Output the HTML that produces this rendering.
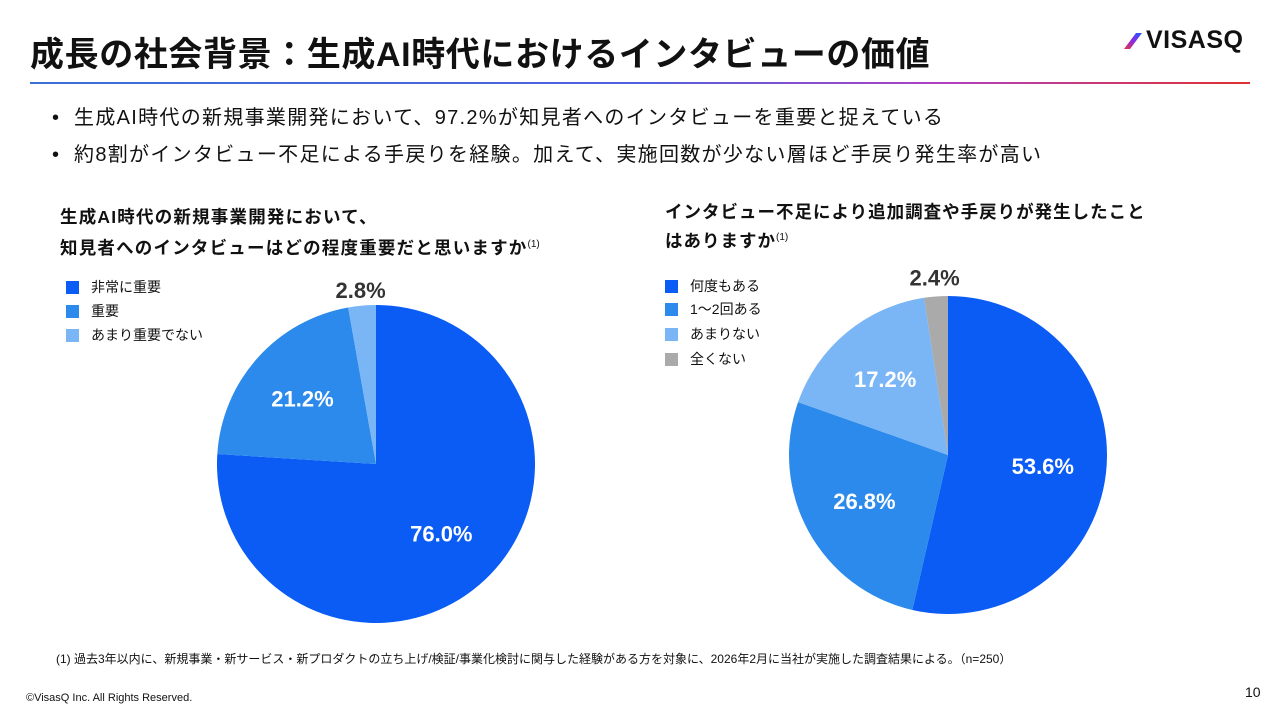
<!DOCTYPE html>
<html><head><meta charset="utf-8">
<style>
body{margin:0;width:1280px;height:720px;background:#fff;font-family:"Liberation Sans","Noto Sans CJK JP",sans-serif;color:#111;overflow:hidden;position:relative}
.a{position:absolute;white-space:nowrap}
.lg{position:absolute;font-size:14px;display:flex;align-items:center}
.lg i{display:inline-block;width:13px;height:13px;margin-right:12px}
</style></head><body>
<div class="a" style="left:30px;top:27px;font-size:34px;font-weight:bold;letter-spacing:0.6px">成長の社会背景：生成AI時代におけるインタビューの価値</div>
<div class="a" style="left:1122px;top:26px;font-size:25px;font-weight:bold;letter-spacing:0.5px">
<svg width="24" height="20" style="vertical-align:-2px"><defs><linearGradient id="lgm" x1="0" y1="1" x2="1" y2="0"><stop offset="0" stop-color="#e8333a"/><stop offset=".5" stop-color="#8a2be2"/><stop offset="1" stop-color="#1e5cff"/></linearGradient></defs><polygon points="2,19 14,3 20,3 8,19" fill="url(#lgm)"/></svg>VISASQ</div>
<div class="a" style="left:30px;top:82px;width:1220px;height:2px;background:linear-gradient(90deg,#3a6fd8 0%,#5060e0 50%,#b040c0 75%,#e03030 100%)"></div>
<div class="a" style="left:52px;top:101px;font-size:20px;letter-spacing:1.3px">•&nbsp; 生成AI時代の新規事業開発において、97.2%が知見者へのインタビューを重要と捉えている</div>
<div class="a" style="left:52px;top:138px;font-size:20px;letter-spacing:1.3px">•&nbsp; 約8割がインタビュー不足による手戻りを経験。加えて、実施回数が少ない層ほど手戻り発生率が高い</div>

<div class="a" style="left:60px;top:203px;font-size:17.5px;font-weight:bold;line-height:28px;letter-spacing:1.2px">生成AI時代の新規事業開発において、<br>知見者へのインタビューはどの程度重要だと思いますか<sup style="font-size:10px;font-weight:normal;letter-spacing:0">(1)</sup></div>
<div class="a" style="left:665px;top:200px;font-size:17.5px;font-weight:bold;line-height:25px;letter-spacing:1px">インタビュー不足により追加調査や手戻りが発生したこと<br>はありますか<sup style="font-size:10px;font-weight:normal;letter-spacing:0">(1)</sup></div>

<div class="lg" style="left:66px;top:277px"><i style="background:#0a5cf5"></i>非常に重要</div>
<div class="lg" style="left:66px;top:301px"><i style="background:#2b8aeb"></i>重要</div>
<div class="lg" style="left:66px;top:325px"><i style="background:#7ab6f5"></i>あまり重要でない</div>

<div class="lg" style="left:665px;top:276px"><i style="background:#0a5cf5"></i>何度もある</div>
<div class="lg" style="left:665px;top:299px"><i style="background:#2b8aeb"></i>1〜2回ある</div>
<div class="lg" style="left:665px;top:324px"><i style="background:#7ab6f5"></i>あまりない</div>
<div class="lg" style="left:665px;top:349px"><i style="background:#aaaaaa"></i>全くない</div>

<svg id="chart" class="a" style="left:0;top:0" width="1280" height="720"></svg>

<div class="a" style="left:56px;top:650px;font-size:12px">(1) 過去3年以内に、新規事業・新サービス・新プロダクトの立ち上げ/検証/事業化検討に関与した経験がある方を対象に、2026年2月に当社が実施した調査結果による。（n=250）</div>
<div class="a" style="left:26px;top:692px;font-size:11px">©VisasQ Inc. All Rights Reserved.</div>
<div class="a" style="left:1245px;top:684px;font-size:14px">10</div>

<script>
const chart1Labels=["非常に重要","重要","あまり重要でない"];
const chart1Values=[76.0,21.2,2.8];
const chart2Labels=["何度もある","1〜2回ある","あまりない","全くない"];
const chart2Values=[53.6,26.8,17.2,2.4];
const colors=["#0a5cf5","#2b8aeb","#7ab6f5","#aaaaaa"];
const svg=document.getElementById('chart');
const NS="http://www.w3.org/2000/svg";
function pie(vals,cx,cy,r,name,labelPos){
  const tot=vals.reduce((a,b)=>a+b,0);let a0=0;
  vals.forEach((v,i)=>{
    const a1=a0+v/tot*2*Math.PI;
    const p=(a)=>[cx+r*Math.sin(a),cy-r*Math.cos(a)];
    const [x0,y0]=p(a0),[x1,y1]=p(a1);
    const path=document.createElementNS(NS,'path');
    path.setAttribute('d',`M${cx},${cy}L${x0},${y0}A${r},${r} 0 ${a1-a0>Math.PI?1:0} 1 ${x1},${y1}Z`);
    path.setAttribute('fill',colors[i]);
    
    
    svg.appendChild(path);
    const am=(a0+a1)/2;const lp=labelPos[i];
    const t=document.createElementNS(NS,'text');
    const lx=cx+lp*r*Math.sin(am), ly=cy-lp*r*Math.cos(am);
    t.setAttribute('x',lx);t.setAttribute('y',ly+8);
    t.setAttribute('text-anchor','middle');
    t.setAttribute('font-size','22');t.setAttribute('font-weight','bold');
    t.setAttribute('fill',lp>1?'#333':'#fff');
    t.textContent=v.toFixed(1)+'%';
    
    
    svg.appendChild(t);
    a0=a1;
  });
}
pie(chart1Values,376,464,159,'chart1',[0.6,0.62,1.1]);
pie(chart2Values,948,455,159,'chart2',[0.6,0.6,0.62,1.12]);
</script>
</body></html>
